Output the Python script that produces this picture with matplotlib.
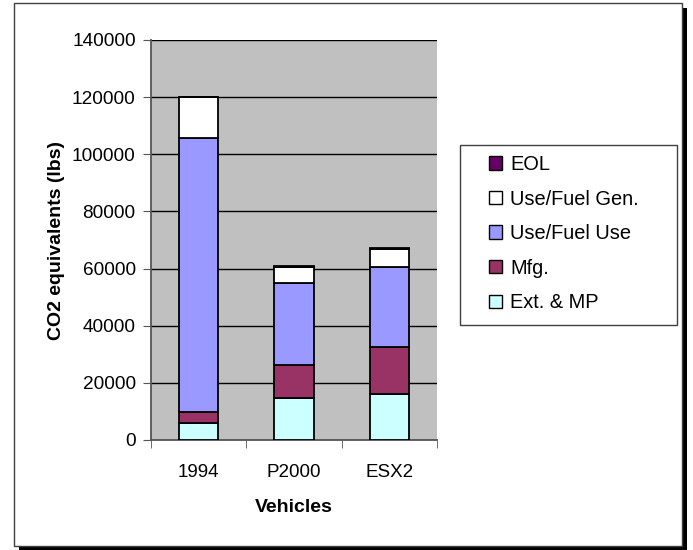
import matplotlib
matplotlib.use('agg')
import matplotlib.pyplot as plt
from matplotlib.patches import Rectangle, Patch
import numpy as np

# dados
vehicles = ["1994", "P2000", "ESX2"]
ext_mp = [6000, 14600, 16100]
mfg = [3800, 11700, 16600]
fuel_use = [95800, 28500, 28000]
fuel_gen = [14300, 5800, 6200]
eol = [200, 200, 200]

series = [
    ("Ext. & MP", ext_mp, "#CCFFFF"),
    ("Mfg.", mfg, "#993366"),
    ("Use/Fuel Use", fuel_use, "#9999FF"),
    ("Use/Fuel Gen.", fuel_gen, "#FFFFFF"),
    ("EOL", eol, "#660066"),
]

plt.rcParams['font.family'] = ['Liberation Sans', 'DejaVu Sans']

fig = plt.figure(figsize=(6.93, 5.50), dpi=100)

# moldura do grafico com sombra
fig.patches.append(Rectangle((19 / 693, 1 - 551 / 550), 668 / 693, 543 / 550,
                             transform=fig.transFigure, facecolor="black",
                             edgecolor="none", zorder=-3))
fig.patches.append(Rectangle((14 / 693, 1 - 546 / 550), 668 / 693, 543 / 550,
                             transform=fig.transFigure, facecolor="white",
                             edgecolor="#404040", lw=1, zorder=-2))
# caixa da legenda
fig.patches.append(Rectangle((460 / 693, 1 - 325 / 550), 217 / 693, 180 / 550,
                             transform=fig.transFigure, facecolor="white",
                             edgecolor="#404040", lw=1, zorder=-1))

ax = fig.add_axes([151 / 693, 110 / 550, 286 / 693, 400 / 550])
ax.set_facecolor("#C0C0C0")

x = np.arange(len(vehicles))
bottom = np.zeros(len(vehicles))
for nome, vals, cor in series:
    ax.bar(x, vals, width=0.41, bottom=bottom, color=cor, edgecolor="black",
           linewidth=1.3, zorder=3, label=nome)
    bottom += np.array(vals)

ax.set_ylim(0, 140000)
ax.set_xlim(-0.5, 2.5)
ax.set_yticks(range(0, 140001, 20000))
ax.yaxis.grid(True, color="black", linewidth=1, zorder=1)
ax.set_axisbelow(True)

ax.set_xticks(x)
ax.set_xticklabels(vehicles)
ax.set_xticks([-0.5, 0.5, 1.5, 2.5], minor=True)
ax.tick_params(axis="x", which="major", length=0, pad=17, labelsize=13.5)
ax.tick_params(axis="x", which="minor", length=6, direction="out", color="#555555")
ax.tick_params(axis="y", length=6, direction="out", color="#555555", pad=5, labelsize=13.7)

for s in ["top", "right"]:
    ax.spines[s].set_visible(False)
for s in ["left", "bottom"]:
    ax.spines[s].set_color("#555555")
    ax.spines[s].set_linewidth(1.3)

ax.set_ylabel("CO2 equivalents (lbs)", fontsize=14, fontweight="bold", labelpad=5)
ax.set_xlabel("Vehicles", fontsize=14, fontweight="bold", labelpad=13)

handles = [Patch(facecolor=c, edgecolor="black", linewidth=1) for _, _, c in series][::-1]
labels = [n for n, _, _ in series][::-1]
leg = fig.legend(handles, labels, loc="upper left",
                 bbox_to_anchor=(489 / 693, 1 - 155 / 550), fontsize=14.4,
                 frameon=False, borderaxespad=0, borderpad=0,
                 handlelength=0.65, handleheight=0.65, handletextpad=0.4,
                 labelspacing=0.78)

fig.savefig("out.png", dpi=100)
